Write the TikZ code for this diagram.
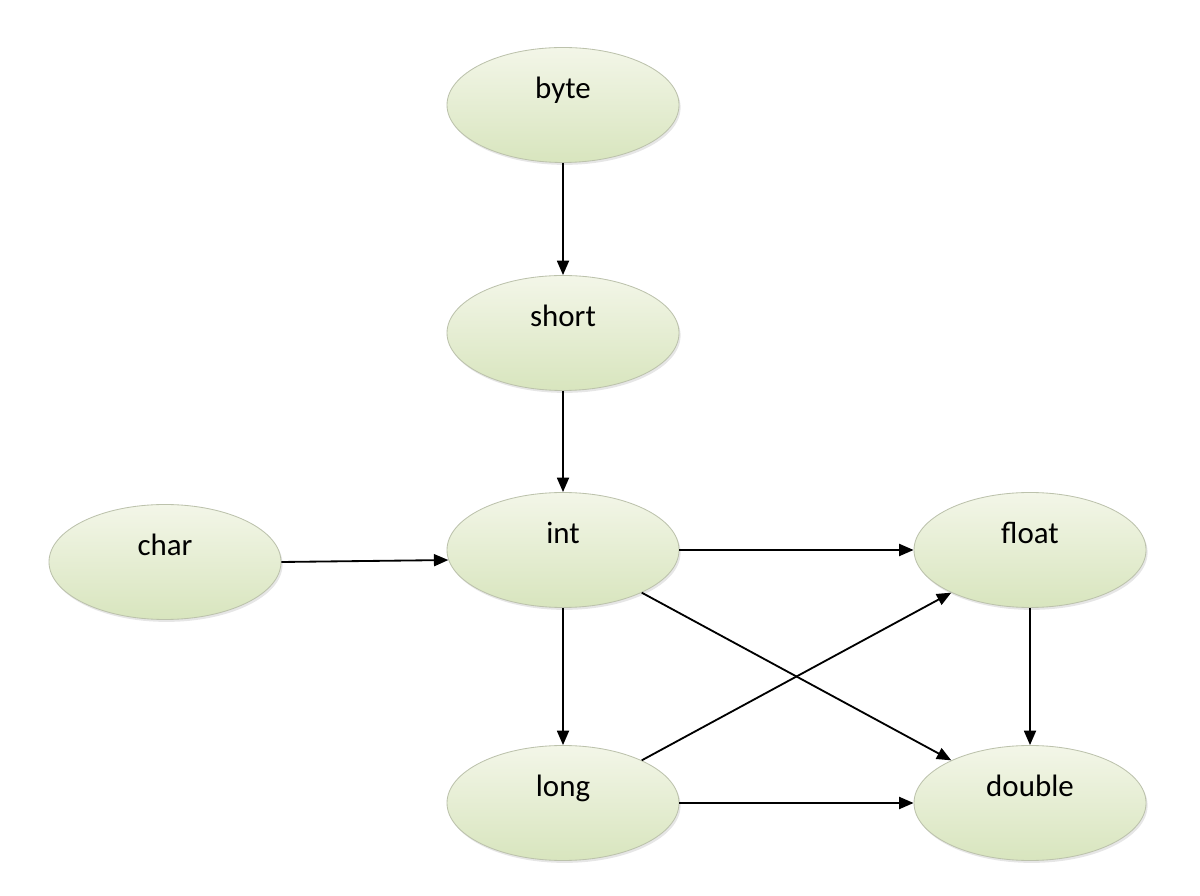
\documentclass[tikz,border=0pt]{standalone}
\usepackage{fontspec}
\setmainfont{Carlito}
\usetikzlibrary{arrows.meta,shapes.geometric,shadows}

\definecolor{ovaltop}{RGB}{243,246,232}
\definecolor{ovalbot}{RGB}{216,229,190}
\definecolor{ovalrim}{RGB}{188,194,172}

\tikzset{
  typ/.style={ellipse, draw=ovalrim, line width=0.6pt,
    top color=ovaltop, bottom color=ovalbot,
    drop shadow={opacity=0.2, shadow xshift=0.04cm, shadow yshift=-0.06cm},
    minimum width=5.8cm, minimum height=2.875cm, inner sep=0pt,
    text height=0.47cm, text depth=0.78cm,
    font=\fontsize{22}{26}\selectfont}
}

\begin{document}
\begin{tikzpicture}[>={Triangle[length=0.36cm,width=0.3cm]}, line width=1.3pt]
  \useasboundingbox (0,0) rectangle (30,22.375);
  \node[typ] (byte)   at (14.075,19.75) {byte};
  \node[typ] (short)  at (14.075,14.05) {short};
  \node[typ] (int)    at (14.075,8.625) {int};
  \node[typ] (char)   at (4.125,8.325)  {char};
  \node[typ] (float)  at (25.75,8.625)  {float};
  \node[typ] (long)   at (14.075,2.3)   {long};
  \node[typ] (double) at (25.75,2.3)    {double};
  \draw[->] (byte) -- (short);
  \draw[->] (short) -- (int);
  \draw[->] (char.east) -- (int.185);
  \draw[->] (int) -- (float);
  \draw[->] (int) -- (long);
  \draw[->] (int) -- (double);
  \draw[->] (float) -- (double);
  \draw[->] (long) -- (float);
  \draw[->] (long) -- (double);
\end{tikzpicture}
\end{document}
